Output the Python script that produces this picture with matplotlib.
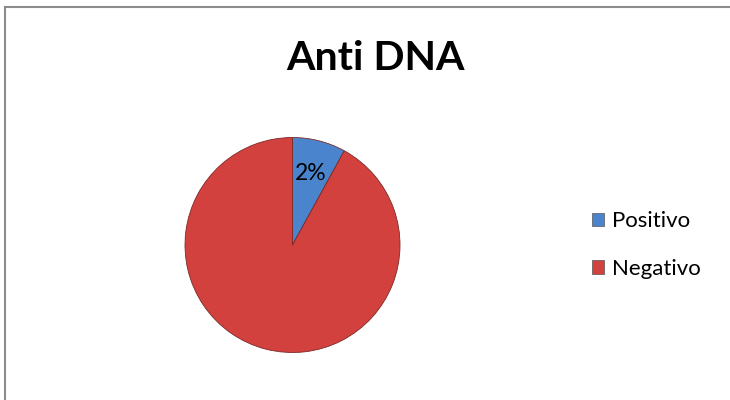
import numpy as np
import matplotlib
matplotlib.use("Agg")
import matplotlib.pyplot as plt
from matplotlib.patches import Patch
from matplotlib.lines import Line2D

# data
categories = ["Positivo", "Negativo"]
values = [8, 92]
slice_labels = ["2%", ""]
colors = ["#4A84CC", "#D2413D"]
title = "Anti DNA"

plt.rcParams["font.family"] = ["Lato", "DejaVu Sans"]

W, H = 730, 400
fig = plt.figure(figsize=(W / 100, H / 100), dpi=100)

# outer chart frame (only top and left edges visible)
fig.add_artist(Line2D([5 / W, 5 / W], [0, 1 - 7 / H], color="#8c8c8c", lw=1.5))
fig.add_artist(Line2D([5 / W, 1], [1 - 7 / H, 1 - 7 / H], color="#8c8c8c", lw=1.5))

fig.text(375 / W, 1 - 59 / H, title, ha="center", va="center", fontsize=29.5, fontweight="bold")

cx, cy, r = 292.5, 245, 107.5
ax = fig.add_axes([(cx - r) / W, 1 - (cy + r) / H, 2 * r / W, 2 * r / H])
wedges, texts = ax.pie(values, labels=slice_labels, colors=colors, startangle=90, counterclock=False,
                       labeldistance=0.69, wedgeprops=dict(edgecolor="#7a2a28", linewidth=0.6),
                       textprops=dict(fontsize=16.5))
for t in texts:
    t.set_ha("center"); t.set_va("center")
ax.set_xlim(-1, 1); ax.set_ylim(-1, 1); ax.set_aspect("equal"); ax.axis("off")

handles = [Patch(facecolor=c, edgecolor="#555555", linewidth=0.5) for c in colors]
fig.legend(handles, categories, loc="center left", bbox_to_anchor=(592 / W, 1 - 245 / H), frameon=False,
           borderpad=0, borderaxespad=0, fontsize=16, handlelength=0.55, handleheight=0.55,
           handletextpad=0.35, labelspacing=1.25)

fig.savefig("out.png", dpi=100)
